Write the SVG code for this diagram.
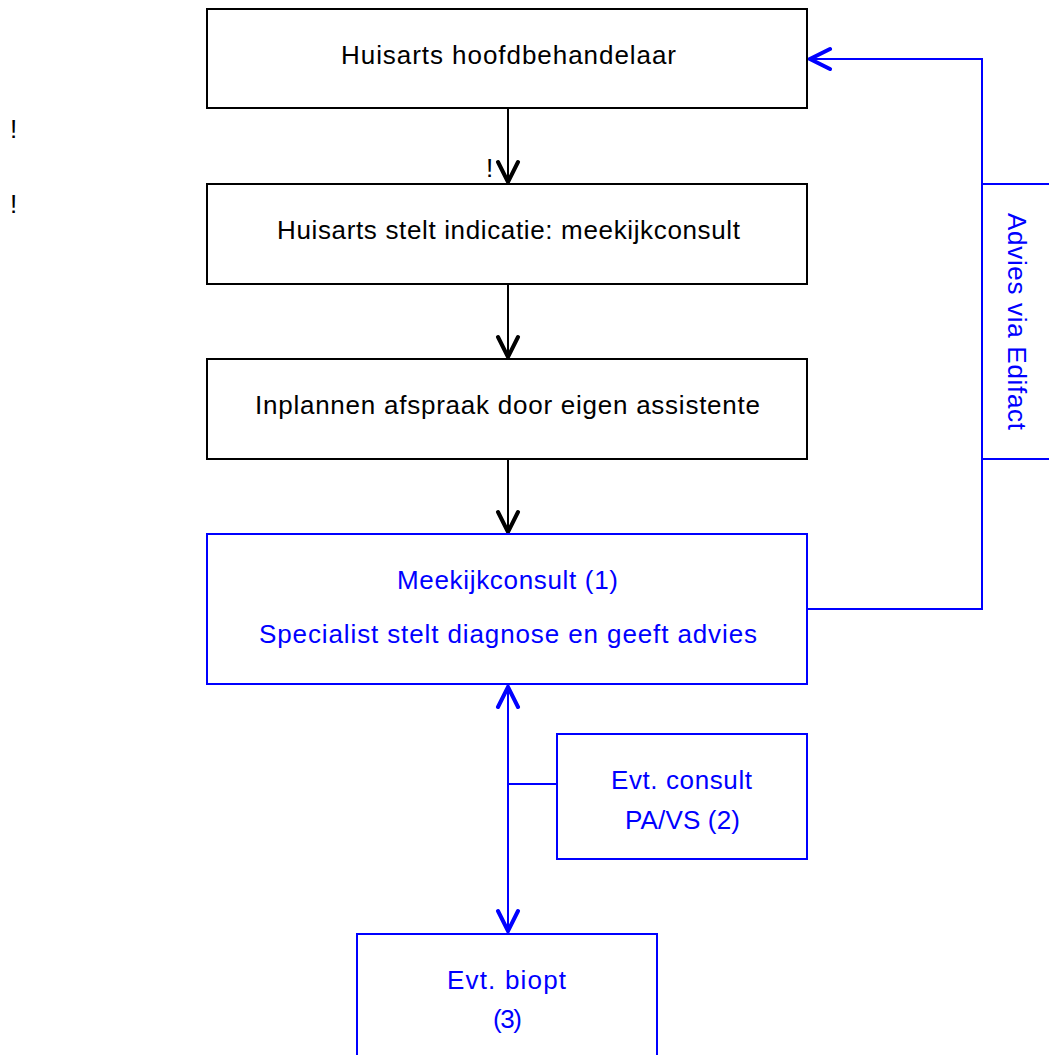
<svg xmlns="http://www.w3.org/2000/svg" width="1049" height="1055" viewBox="0 0 1049 1055">
<style>
  text { font-family: "Liberation Sans", Arial, sans-serif; font-size: 26px; }
  .bk { fill: #000; }
  .bl { fill: #0000ff; }
  .boxk { fill: #fff; stroke: #000; stroke-width: 2; }
  .boxb { fill: #fff; stroke: #0000ff; stroke-width: 2; }
  .lk { fill: none; stroke: #000; stroke-width: 2; }
  .lb { fill: none; stroke: #0000ff; stroke-width: 2; }
</style>
<defs>
  <marker id="ak" markerUnits="userSpaceOnUse" viewBox="-24 -13 27 26" refX="0" refY="0" markerWidth="27" markerHeight="26" orient="auto-start-reverse">
    <path d="M-20,-10 L0,0 L-20,10" fill="none" stroke="#000" stroke-width="4" stroke-linecap="round" stroke-linejoin="miter"/>
  </marker>
  <marker id="ab" markerUnits="userSpaceOnUse" viewBox="-24 -13 27 26" refX="0" refY="0" markerWidth="27" markerHeight="26" orient="auto-start-reverse">
    <path d="M-20,-10 L0,0 L-20,10" fill="none" stroke="#0000ff" stroke-width="4" stroke-linecap="round" stroke-linejoin="miter"/>
  </marker>
</defs>
<rect width="1049" height="1055" fill="#fff"/>

<g id="connectors">
  <line class="lk" x1="508" y1="108" x2="508" y2="182" marker-end="url(#ak)"/>
  <line class="lk" x1="508" y1="284" x2="508" y2="357" marker-end="url(#ak)"/>
  <line class="lk" x1="508" y1="459" x2="508" y2="532" marker-end="url(#ak)"/>
  <polyline class="lb" points="807,609 982,609 982,59 810,59" marker-end="url(#ab)"/>
  <line class="lb" x1="508" y1="687" x2="508" y2="931" marker-start="url(#ab)" marker-end="url(#ab)"/>
  <line class="lb" x1="508" y1="784" x2="557" y2="784"/>
</g>

<g id="marks">
  <text class="bk" x="10" y="138">!</text>
  <text class="bk" x="10" y="213">!</text>
  <text class="bk" x="486" y="177">!</text>
</g>

<g id="node-huisarts">
  <rect class="boxk" x="207" y="9" width="600" height="99"/>
  <text class="bk" x="341" y="64" textLength="335" lengthAdjust="spacing">Huisarts hoofdbehandelaar</text>
</g>

<g id="node-indicatie">
  <rect class="boxk" x="207" y="184" width="600" height="100"/>
  <text class="bk" x="277" y="239" textLength="463" lengthAdjust="spacing">Huisarts stelt indicatie: meekijkconsult</text>
</g>

<g id="node-inplannen">
  <rect class="boxk" x="207" y="359" width="600" height="100"/>
  <text class="bk" x="255" y="414" textLength="505" lengthAdjust="spacing">Inplannen afspraak door eigen assistente</text>
</g>

<g id="node-meekijkconsult">
  <rect class="boxb" x="207" y="534" width="600" height="150"/>
  <text class="bl" x="397" y="589" textLength="221" lengthAdjust="spacing">Meekijkconsult (1)</text>
  <text class="bl" x="259" y="643" textLength="498" lengthAdjust="spacing">Specialist stelt diagnose en geeft advies</text>
</g>

<g id="node-consult-pavs">
  <rect class="boxb" x="557" y="734" width="250" height="125"/>
  <text class="bl" x="611" y="789" textLength="141" lengthAdjust="spacing">Evt. consult</text>
  <text class="bl" x="625" y="829" textLength="115" lengthAdjust="spacing">PA/VS (2)</text>
</g>

<g id="node-biopt">
  <rect class="boxb" x="357" y="934" width="300" height="140"/>
  <text class="bl" x="447" y="989" textLength="119" lengthAdjust="spacing">Evt. biopt</text>
  <text class="bl" x="493" y="1028" textLength="29" lengthAdjust="spacing">(3)</text>
</g>

<g id="node-edifact-label">
  <rect class="boxb" x="982" y="184" width="80" height="275"/>
  <text class="bl" transform="translate(1008,213) rotate(90)" textLength="217" lengthAdjust="spacing">Advies via Edifact</text>
</g>
</svg>
